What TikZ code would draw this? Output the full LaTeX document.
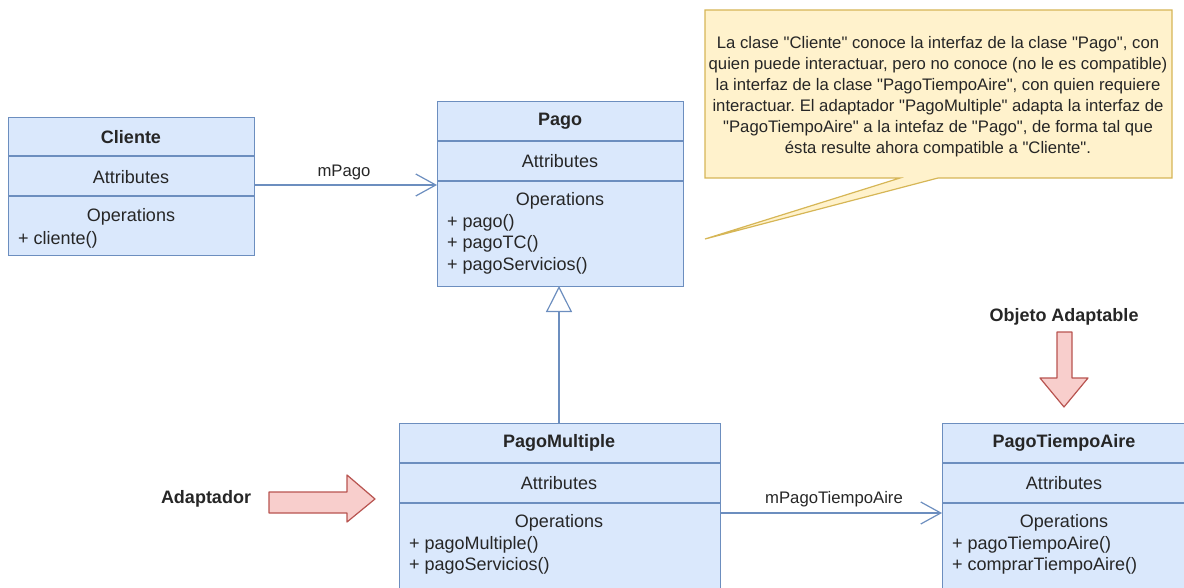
\documentclass[tikz,border=0pt]{standalone}
\usepackage{fontspec}
\setmainfont{Liberation Sans}
\usetikzlibrary{arrows.meta}
\definecolor{cfill}{HTML}{DAE8FC}
\definecolor{cdraw}{HTML}{6C8EBF}
\definecolor{nfill}{HTML}{FFF2CC}
\definecolor{ndraw}{HTML}{D6B656}
\definecolor{rfill}{HTML}{F8CECC}
\definecolor{rdraw}{HTML}{B85450}
\definecolor{txt}{HTML}{262626}
\newcommand\qd{\textquotedbl}
\frenchspacing
\begin{document}
\begin{tikzpicture}[x=1pt,y=-1pt,
  every node/.style={text=txt, font=\fontsize{18}{21}\selectfont, inner sep=0pt},
  classbox/.style={draw=cdraw, fill=cfill, line width=1.2pt, anchor=north west},
  sepline/.style={draw=cdraw, line width=1.2pt},
  ctitle/.style={font=\fontsize{18}{21}\selectfont\bfseries},
  meth/.style={anchor=west},
  conn/.style={draw=cdraw, line width=1.2pt},
  redarrow/.style={draw=rdraw, fill=rfill, line width=1.2pt, line join=round},
  lbl/.style={font=\fontsize{16.7}{20}\selectfont}]
\useasboundingbox (0,0) rectangle (1184,588);

% Cliente
\node[classbox, minimum width=246pt, minimum height=138pt] (cli) at (8,117) {};
\draw[sepline] ([yshift=-39pt]cli.north west) -- ([yshift=-39pt]cli.north east);
\draw[sepline] ([yshift=-79pt]cli.north west) -- ([yshift=-79pt]cli.north east);
\node[ctitle] (cliT) at (131,137) {Cliente};
\node (cliA) at (131,177) {Attributes};
\node (cliO) at (131,217) {Operations};
\node[meth] (cliM1) at (18,240) {+ cliente()};

% Pago
\node[classbox, minimum width=246pt, minimum height=185pt] (pago) at (437,101) {};
\draw[sepline] ([yshift=-40pt]pago.north west) -- ([yshift=-40pt]pago.north east);
\draw[sepline] ([yshift=-80pt]pago.north west) -- ([yshift=-80pt]pago.north east);
\node[ctitle] (pagoT) at (560,121) {Pago};
\node (pagoA) at (560,161) {Attributes};
\node (pagoO) at (560,201) {Operations};
\node[meth] (pagoM1) at (447,223) {+ pago()};
\node[meth] (pagoM2) at (447,244) {+ pagoTC()};
\node[meth] (pagoM3) at (447,266) {+ pagoServicios()};

% PagoMultiple
\node[classbox, minimum width=321pt, minimum height=175pt] (pm) at (399,423) {};
\draw[sepline] ([yshift=-40pt]pm.north west) -- ([yshift=-40pt]pm.north east);
\draw[sepline] ([yshift=-80pt]pm.north west) -- ([yshift=-80pt]pm.north east);
\node[ctitle] (pmT) at (559,443) {PagoMultiple};
\node (pmA) at (559,483) {Attributes};
\node (pmO) at (559,523) {Operations};
\node[meth] (pmM1) at (409,545) {+ pagoMultiple()};
\node[meth] (pmM2) at (409,566) {+ pagoServicios()};

% PagoTiempoAire
\node[classbox, minimum width=246pt, minimum height=175pt] (pta) at (942,423) {};
\draw[sepline] ([yshift=-40pt]pta.north west) -- ([yshift=-40pt]pta.north east);
\draw[sepline] ([yshift=-80pt]pta.north west) -- ([yshift=-80pt]pta.north east);
\node[ctitle] (ptaT) at (1064,443) {PagoTiempoAire};
\node (ptaA) at (1064,483) {Attributes};
\node (ptaO) at (1064,523) {Operations};
\node[meth] (ptaM1) at (952,545) {+ pagoTiempoAire()};
\node[meth] (ptaM2) at (952,566) {+ comprarTiempoAire()};

% connectors
\coordinate (c1) at (254,185);
\coordinate (c2) at (437,185);
\draw[conn, -{Straight Barb[length=20pt,width=22pt,line width=1.2pt]}] (c1) -- (c2);
\node[lbl] (lblP) at (344,172) {mPago};

\coordinate (g1) at (559,423);
\coordinate (g2) at (559,286);
\draw[conn, -{Triangle[open,fill=white,length=26pt,width=26pt,line width=1.2pt]}] (g1) -- (g2);

\coordinate (a1) at (720,513);
\coordinate (a2) at (942,513);
\draw[conn, -{Straight Barb[length=20pt,width=22pt,line width=1.2pt]}] (a1) -- (a2);
\node[lbl] (lblA) at (834,499) {mPagoTiempoAire};

% note
\draw[draw=ndraw, fill=nfill, line width=1.2pt, line join=miter]
  (705,10) -- (1172,10) -- (1172,178) -- (938,178) -- (705,239) -- (900,178) -- (705,178) -- cycle;
\node[lbl, align=center, font=\fontsize{16.7}{21}\selectfont] (note) at (938,97)
  {La clase \qd Cliente\qd{} conoce la interfaz de la clase \qd Pago\qd, con\\
   quien puede interactuar, pero no conoce (no le es compatible)\\
   la interfaz de la clase \qd PagoTiempoAire\qd, con quien requiere\\
   interactuar. El adaptador \qd PagoMultiple\qd{} adapta la interfaz de\\
   \qd PagoTiempoAire\qd{} a la intefaz de \qd Pago\qd, de forma tal que\\
   ésta resulte ahora compatible a \qd Cliente\qd.};

% Adaptador
\node[ctitle] (adap) at (206,499) {Adaptador};
\draw[redarrow] (269,492) -- (347,492) -- (347,475) -- (375,499) -- (347,522) -- (347,513) -- (269,513) -- cycle;

% Objeto Adaptable
\node[ctitle] (obj) at (1064,317) {Objeto Adaptable};
\draw[redarrow] (1057,332) -- (1072,332) -- (1072,378) -- (1088,378) -- (1064,407) -- (1040,378) -- (1057,378) -- cycle;
\end{tikzpicture}
\end{document}
